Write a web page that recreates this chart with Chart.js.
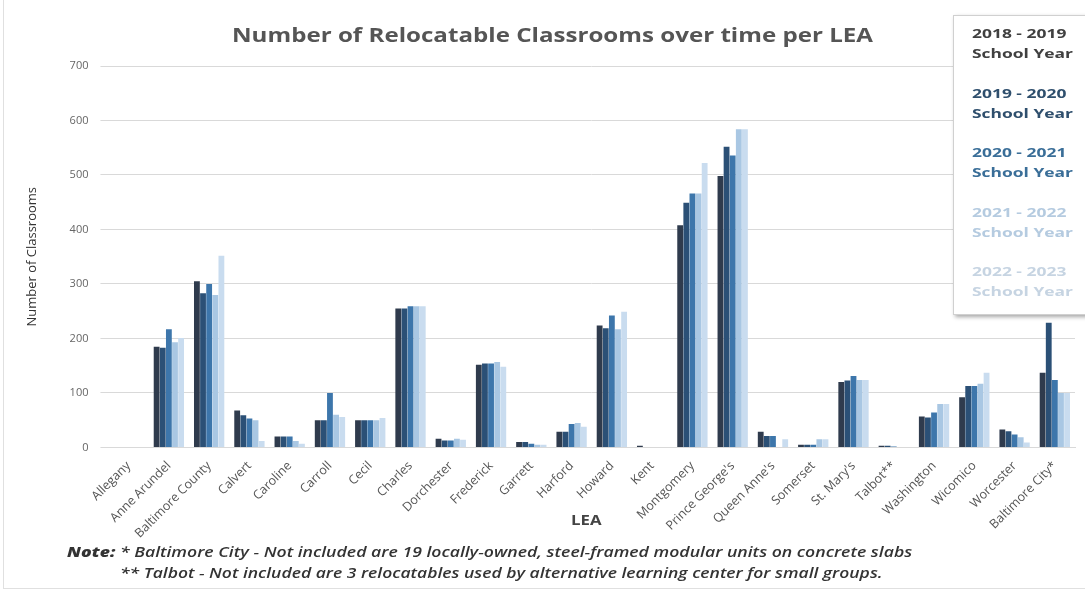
<!DOCTYPE html>
<html>
<head>
<meta charset="utf-8">
<script src="https://cdn.jsdelivr.net/npm/chart.js@4.4.1/dist/chart.umd.min.js"></script>
<style>
  html, body { margin: 0; padding: 0; background: #fff; }
  #wrap { position: relative; width: 1085px; height: 592px; box-sizing: border-box; overflow: hidden; }
  #frame { position: absolute; left: 3px; top: -2px; width: 1090px; height: 591px; box-sizing: border-box; border: 1px solid #e0e0e0; }
  #chartBox { position: absolute; left: 0; top: 0; width: 1085px; height: 544px; }
  .stretch { display: inline-block; transform-origin: left center; white-space: nowrap; }
  #title { position: absolute; left: 232px; top: 22px; font-family: "Open Sans", sans-serif; font-weight: bold;
    font-size: 19px; color: #555; }
  #lea { position: absolute; left: 571px; top: 510px; font-family: "Open Sans", sans-serif; font-weight: bold;
    font-size: 14px; color: #444; }
  #legend { position: absolute; left: 953px; top: 15px; width: 140px; height: 300px; box-sizing: border-box;
    background: #fff; border: 1px solid #d0d0d0; box-shadow: 2px 2px 4px rgba(0,0,0,0.35);
    font-family: "Open Sans", "Noto Sans", sans-serif; font-weight: bold; font-size: 13px; line-height: 20px; padding: 7px 0 0 18px; }
  #legend div.item { height: 59.5px; }
  #note { position: absolute; left: 67px; top: 541px; font-family: "Open Sans", sans-serif;
    font-style: italic; font-weight: 600; font-size: 14px; line-height: 21px; color: #333; }
</style>
</head>
<body>
<div id="wrap">
  <div id="frame"></div>
  <div id="chartBox"><canvas id="chart"></canvas></div>
  <div id="title"><span class="stretch" id="titleText">Number of Relocatable Classrooms over time per LEA</span></div>
  <div id="lea"><span class="stretch" style="transform:scaleX(1.2)">LEA</span></div>
  <div id="legend"></div>
  <div id="note">
    <div><span class="stretch" style="transform:scaleX(1.26)"><b style="font-weight:800">Note:</b> * Baltimore City - Not included are 19 locally-owned, steel-framed modular units on concrete slabs</span></div>
    <div style="padding-left:53px"><span class="stretch" style="transform:scaleX(1.25)">** Talbot - Not included are 3 relocatables used by alternative learning center for small groups.</span></div>
  </div>
</div>
<script>
// LEA names
const leas = ['Allegany', 'Anne Arundel', 'Baltimore County', 'Calvert', 'Caroline', 'Carroll', 'Cecil',
  'Charles', 'Dorchester', 'Frederick', 'Garrett', 'Harford', 'Howard', 'Kent', 'Montgomery',
  "Prince George's", "Queen Anne's", 'Somerset', "St. Mary's", 'Talbot**', 'Washington',
  'Wicomico', 'Worcester', 'Baltimore City*'];

// school years
const years = ['2018 - 2019', '2019 - 2020', '2020 - 2021', '2021 - 2022', '2022 - 2023'];

// classrooms per year
const y2018 = [0, 185, 305, 68, 20, 50, 50, 255, 16, 152, 10, 29, 224, 3, 408, 498, 29, 5, 120, 3, 57, 92, 33, 137];
const y2019 = [0, 183, 283, 59, 20, 50, 50, 255, 13, 154, 10, 29, 219, 0, 449, 552, 21, 5, 123, 3, 55, 113, 30, 229];
const y2020 = [0, 217, 300, 53, 20, 100, 50, 259, 13, 154, 7, 43, 242, 0, 466, 536, 21, 5, 131, 2, 64, 113, 24, 124];
const y2021 = [0, 193, 280, 50, 12, 60, 50, 259, 16, 157, 5, 45, 217, 0, 466, 584, 0, 15, 124, 0, 80, 117, 19, 100];
const y2022 = [0, 201, 352, 12, 7, 56, 54, 259, 14, 148, 5, 38, 249, 0, 522, 584, 15, 15, 124, 0, 80, 137, 9, 100];

const yTicks = [0, 100, 200, 300, 400, 500, 600, 700];

const barColors = ['#2f3b4d', '#2b5076', '#3d76ab', '#a9c7e3', '#c9dcef'];
const legendColors = ['#404040', '#2f4f6d', '#3a6e98', '#b5cbe0', '#c6d4e2'];

const series = [y2018, y2019, y2020, y2021, y2022];

// タイトルの横幅を合わせる
document.getElementById('titleText').style.transform = 'scaleX(1.27)';

// 凡例
const legendBox = document.getElementById('legend');
years.forEach((y, i) => {
  const d = document.createElement('div');
  d.className = 'item';
  d.style.color = legendColors[i];
  d.innerHTML = `<span class="stretch" style="transform:scaleX(1.34)">${y}</span><br>` +
    `<span class="stretch" style="transform:scaleX(1.34)">School Year</span>`;
  legendBox.appendChild(d);
});

new Chart(document.getElementById('chart'), {
  type: 'bar',
  data: {
    labels: leas,
    datasets: series.map((s, i) => ({
      label: years[i] + ' School Year',
      data: s,
      backgroundColor: barColors[i],
      categoryPercentage: 0.76,
      barPercentage: 0.95
    }))
  },
  options: {
    responsive: true,
    maintainAspectRatio: false,
    animation: false,
    layout: { padding: { left: 20, right: 10, top: 66, bottom: 0 } },
    plugins: {
      legend: { display: false },
      tooltip: { enabled: false }
    },
    scales: {
      x: {
        grid: { display: false },
        border: { color: '#d9d9d9' },
        ticks: {
          color: '#555',
          font: { family: '"Open Sans", sans-serif', size: 12.5 },
          maxRotation: 45,
          minRotation: 45,
          autoSkip: false
        }
      },
      y: {
        min: 0,
        max: 700,
        afterBuildTicks: axis => { axis.ticks = yTicks.map(v => ({ value: v })); },
        grid: { color: '#d9d9d9' },
        border: { display: false },
        ticks: {
          color: '#666',
          padding: 12,
          font: { family: '"Open Sans", sans-serif', size: 11 }
        },
        title: {
          display: true,
          text: 'Number of Classrooms',
          color: '#333',
          font: { family: '"Open Sans", sans-serif', size: 13 },
          padding: { bottom: 18 }
        }
      }
    }
  }
});
</script>
</body>
</html>
